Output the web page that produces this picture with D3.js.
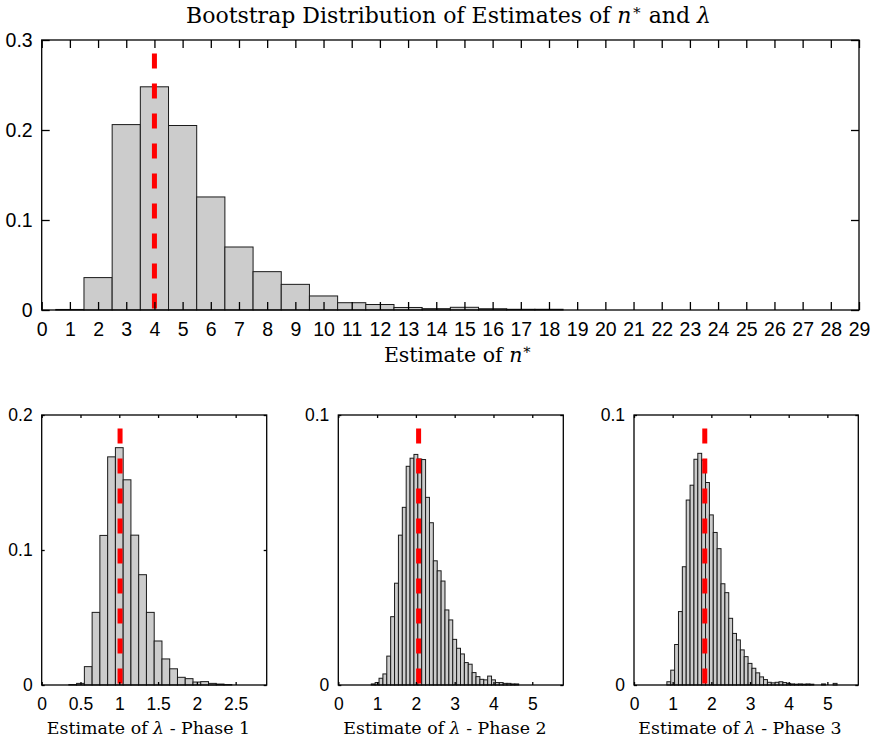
<!DOCTYPE html>
<html>
<head>
<meta charset="utf-8">
<script src="https://cdn.jsdelivr.net/npm/d3@7"></script>
<style>
  body { margin: 0; background: #fff; }
  svg { display: block; }
  .tick text { font-family: "Liberation Sans", Arial, sans-serif; fill: #000; }
  .lbl { font-family: "DejaVu Serif", serif; fill: #000; }
</style>
</head>
<body>
<div id="app"></div>
<script>
// ---- data ----
// top panel: estimate of n*
const nBins = [1, 2, 3, 4, 5, 6, 7, 8, 9, 10, 11, 12, 13, 14, 15, 16, 17, 18]
const nFreq = [0.0006, 0.036, 0.206, 0.248, 0.205, 0.1256, 0.070, 0.0426, 0.0285, 0.0156, 0.0081, 0.0061, 0.0028, 0.0015, 0.003, 0.0014, 0.0008, 0.0008]
const nTicks = [0, 1, 2, 3, 4, 5, 6, 7, 8, 9, 10, 11, 12, 13, 14, 15, 16, 17, 18, 19, 20, 21, 22, 23, 24, 25, 26, 27, 28, 29]
const nEstimate = 4

// lambda phase 1
const l1Bins = [0.4, 0.5, 0.6, 0.7, 0.8, 0.9, 1.0, 1.1, 1.2, 1.3, 1.4, 1.5, 1.6, 1.7, 1.8, 1.9, 2.0, 2.1, 2.2, 2.3, 2.4]
const l1Freq = [0.0003, 0.0012, 0.0136, 0.0538, 0.1108, 0.169, 0.1758, 0.152, 0.111, 0.0817, 0.0538, 0.0326, 0.0193, 0.012, 0.0057, 0.0047, 0.0022, 0.0025, 0.0012, 0.0007, 0.0003]
const l1Ticks = [0, 0.5, 1, 1.5, 2, 2.5]
const l1Estimate = 1.01

// lambda phase 2
const l2Bins = [0.9, 1.0, 1.1, 1.2, 1.3, 1.4, 1.5, 1.6, 1.7, 1.8, 1.9, 2.0, 2.1, 2.2, 2.3, 2.4, 2.5, 2.6, 2.7, 2.8, 2.9, 3.0, 3.1, 3.2, 3.3, 3.4, 3.5, 3.6, 3.7, 3.8, 3.9, 4.0, 4.1, 4.2, 4.3, 4.4, 4.5, 4.6]
const l2Freq = [0.0004, 0.0009, 0.0025, 0.0041, 0.0107, 0.0253, 0.0377, 0.0555, 0.0658, 0.081, 0.084, 0.0854, 0.0837, 0.0835, 0.0695, 0.0601, 0.046, 0.0423, 0.0385, 0.0278, 0.0241, 0.0169, 0.0136, 0.0115, 0.0083, 0.0077, 0.0046, 0.0031, 0.0021, 0.0019, 0.0033, 0.0019, 0.0009, 0.0009, 0.0006, 0.0006, 0.0004, 0.0004]
const l2Ticks = [0, 1, 2, 3, 4, 5]
const l2Estimate = 2.07

// lambda phase 3
const l3Bins = [0.9, 1.0, 1.1, 1.2, 1.3, 1.4, 1.5, 1.6, 1.7, 1.8, 1.9, 2.0, 2.1, 2.2, 2.3, 2.4, 2.5, 2.6, 2.7, 2.8, 2.9, 3.0, 3.1, 3.2, 3.3, 3.4, 3.5, 3.6, 3.7, 3.8, 3.9, 4.0, 4.1, 4.2, 4.3, 4.4, 4.5, 4.6, 4.9, 5.2]
const l3Freq = [0.0012, 0.0055, 0.015, 0.0272, 0.0438, 0.0685, 0.074, 0.0836, 0.0858, 0.0833, 0.075, 0.063, 0.0565, 0.0505, 0.0375, 0.0342, 0.0247, 0.0191, 0.0167, 0.013, 0.0105, 0.008, 0.0062, 0.0045, 0.003, 0.002, 0.001, 0.0008, 0.001, 0.0012, 0.0009, 0.0006, 0.0004, 0.0003, 0.0004, 0.0003, 0.0004, 0.0003, 0.0004, 0.0006]
const l3Ticks = [0, 1, 2, 3, 4, 5]
const l3Estimate = 1.83

const w = 875, h = 742

const svg = d3.select("#app")
  .append("svg")
  .attr("width", w)
  .attr("height", h)

// one histogram panel
function panel(o) {
  const x = d3.scaleLinear().domain(o.xDomain).range([o.left, o.right])
  const y = d3.scaleLinear().domain(o.yDomain).range([o.bottom, o.top])
  const g = svg.append("g")
  const tk = o.tickLen

  g.selectAll(".bar")
    .data(o.bins.map((b, i) => ({ c: b, v: o.freq[i] })))
    .enter()
    .append("rect")
    .attr("class", "bar")
    .attr("x", d => x(d.c - o.binW / 2))
    .attr("width", d => x(d.c + o.binW / 2) - x(d.c - o.binW / 2))
    .attr("y", d => y(d.v))
    .attr("height", d => y(0) - y(d.v))
    .attr("fill", "#cccccc")
    .attr("stroke", "#1a1a1a")
    .attr("stroke-width", 1)

  // estimate marker
  g.append("line")
    .attr("x1", x(o.estimate)).attr("x2", x(o.estimate))
    .attr("y1", y(o.yDomain[1] * 0.95)).attr("y2", y(0))
    .attr("stroke", "#ff0000")
    .attr("stroke-width", 5)
    .attr("stroke-dasharray", "15,15")

  const xb = d3.axisBottom(x).tickValues(o.xTicks).tickSize(-tk).tickPadding(o.xPad)
    .tickFormat(d3.format("~g"))
  const xt = d3.axisTop(x).tickValues(o.xTicks).tickSize(-tk).tickFormat("")
  const yl = d3.axisLeft(y).tickValues(o.yTicks).tickSize(-tk).tickPadding(9)
    .tickFormat(d3.format("~g"))
  const yr = d3.axisRight(y).tickValues(o.yTicks).tickSize(-tk).tickFormat("")

  g.append("g").attr("transform", "translate(0," + o.bottom + ")").call(xb)
  g.append("g").attr("transform", "translate(0," + o.top + ")").call(xt)
  g.append("g").attr("transform", "translate(" + o.left + ",0)").call(yl)
  g.append("g").attr("transform", "translate(" + o.right + ",0)").call(yr)
  g.selectAll(".domain").remove()
  g.selectAll(".tick line").attr("stroke", "#000").attr("stroke-width", 1.3)
  g.selectAll(".tick text").style("font-size", o.tickFont + "px")

  g.append("rect")
    .attr("x", o.left).attr("y", o.top)
    .attr("width", o.right - o.left).attr("height", o.bottom - o.top)
    .attr("fill", "none").attr("stroke", "#000").attr("stroke-width", 1.3)

  // x label
  const t = g.append("text")
    .attr("class", "lbl")
    .attr("x", o.labelX).attr("y", o.labelY)
    .style("font-size", o.labelFont + "px")
    .style("text-anchor", "middle")
  t.append("tspan").text("Estimate of ")
  t.append("tspan").style("font-style", "italic").text(o.sym)
  if (o.sup) t.append("tspan").attr("dy", -8).style("font-size", (o.labelFont * 0.7) + "px").text(o.sup)
  if (o.tail) t.append("tspan").text(o.tail)
}

panel({
  bins: nBins, freq: nFreq, binW: 1, estimate: nEstimate,
  xDomain: [0, 29], yDomain: [0, 0.3], xTicks: nTicks, yTicks: [0, 0.1, 0.2, 0.3],
  left: 41.7, right: 859, top: 40, bottom: 310, tickLen: 8, xPad: 12, tickFont: 19.5,
  labelX: 458, labelY: 362, labelFont: 20.5, sym: "n", sup: "\u2217"
})
panel({
  bins: l1Bins, freq: l1Freq, binW: 0.1, estimate: l1Estimate,
  xDomain: [0, 2.9], yDomain: [0, 0.2], xTicks: l1Ticks, yTicks: [0, 0.1, 0.2],
  left: 41.7, right: 266.7, top: 415, bottom: 685, tickLen: 3, xPad: 13, tickFont: 17.5,
  labelX: 148.5, labelY: 734, labelFont: 17.4, sym: "\u03bb", tail: " - Phase 1"
})
panel({
  bins: l2Bins, freq: l2Freq, binW: 0.1, estimate: l2Estimate,
  xDomain: [0, 5.8], yDomain: [0, 0.1], xTicks: l2Ticks, yTicks: [0, 0.1],
  left: 338.3, right: 563.3, top: 415, bottom: 685, tickLen: 3, xPad: 13, tickFont: 17.5,
  labelX: 445, labelY: 734, labelFont: 17.4, sym: "\u03bb", tail: " - Phase 2"
})
panel({
  bins: l3Bins, freq: l3Freq, binW: 0.1, estimate: l3Estimate,
  xDomain: [0, 5.8], yDomain: [0, 0.1], xTicks: l3Ticks, yTicks: [0, 0.1],
  left: 634, right: 858.3, top: 415, bottom: 685, tickLen: 3, xPad: 13, tickFont: 17.5,
  labelX: 740, labelY: 734, labelFont: 17.4, sym: "\u03bb", tail: " - Phase 3"
})

// title
const title = svg.append("text")
  .attr("class", "lbl")
  .attr("x", 448.5).attr("y", 23)
  .style("font-size", "22px")
  .style("text-anchor", "middle")
title.append("tspan").text("Bootstrap Distribution of Estimates of ")
title.append("tspan").style("font-style", "italic").text("n")
title.append("tspan").attr("dy", -8).style("font-size", "15px").text("\u2217")
title.append("tspan").attr("dy", 8).text(" and ")
title.append("tspan").style("font-style", "italic").text("\u03bb")
</script>
</body>
</html>
